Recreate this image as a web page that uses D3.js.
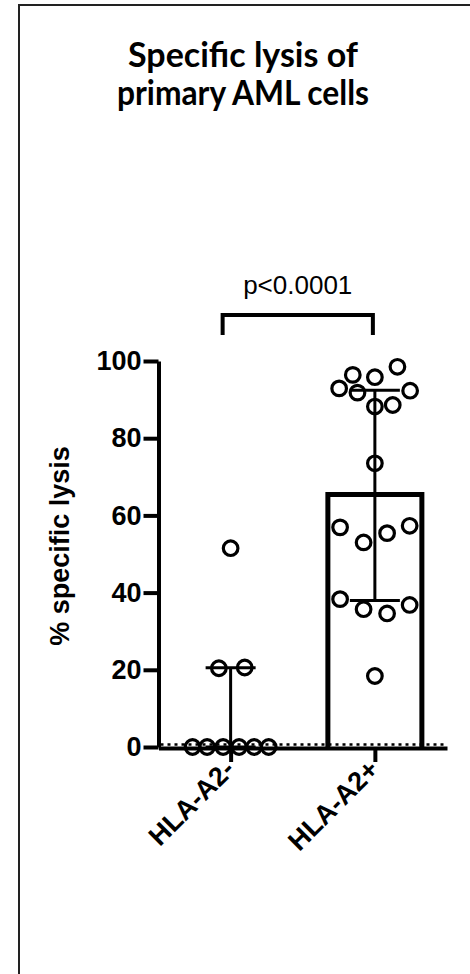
<!DOCTYPE html>
<html>
<head>
<meta charset="utf-8">
<script src="https://cdn.jsdelivr.net/npm/d3@7.9.0/dist/d3.min.js"></script>
<style>
  body { margin: 0; background: #fff; }
  svg { display: block; }
</style>
</head>
<body>
<div id="chart"></div>
<script>
// chart data
const groups = ["HLA-A2-", "HLA-A2+"];
const lysisA2neg = [0, 0, 0, 0, 0, 0, 20.4, 20.6, 51.5];
const jitterA2neg = [-0.81, -0.5, -0.16, 0.18, 0.5, 0.81, -0.25, 0.3, 0];
const lysisA2pos = [98.5, 96.4, 95.8, 92.9, 92.3, 91.8, 88.6, 88.2, 73.5,
                    57.3, 56.9, 55.4, 53.0, 38.3, 36.8, 35.7, 34.6, 18.4];
const jitterA2pos = [0.48, -0.47, 0, -0.76, 0.75, -0.37, 0.38, 0, 0,
                     0.74, -0.74, 0.26, -0.24, -0.74, 0.74, -0.24, 0.26, 0];
const yTicks = [0, 20, 40, 60, 80, 100];
const titleLines = ["Specific lysis of", "primary AML cells"];
const yTitle = "% specific lysis";
const pLabel = "p<0.0001";

const W = 470, H = 974;
const arial = "'Liberation Sans', Arial, sans-serif";

// GraphPad style quartiles (n+1)p
function quart(vals, p) {
  const s = vals.slice().sort((a, b) => a - b);
  const n = s.length;
  const pos = p * (n + 1);
  const lo = Math.floor(pos), frac = pos - lo;
  if (lo < 1) return s[0];
  if (lo >= n) return s[n - 1];
  return s[lo - 1] + frac * (s[lo] - s[lo - 1]);
}

const series = [
  {name: groups[0], vals: lysisA2neg, jit: jitterA2neg},
  {name: groups[1], vals: lysisA2pos, jit: jitterA2pos}
].map(g => ({...g, q1: quart(g.vals, 0.25), med: quart(g.vals, 0.5), q3: quart(g.vals, 0.75)}));

const svg = d3.select('#chart').append('svg')
  .attr('width', W).attr('height', H);

// frame
svg.append('path')
  .attr('d', `M19,${H} V5 H${W}`)
  .attr('fill', 'none').attr('stroke', '#222').attr('stroke-width', 2);

// title (Calibri-like width, squeezed a little)
const titleWidths = [230, 252];
svg.append('g').selectAll('text')
  .data(titleLines).join('text')
  .attr('x', 243)
  .attr('y', (d, i) => 67 + i * 38)
  .attr('text-anchor', 'middle')
  .attr('font-family', "Lato, 'Open Sans', sans-serif")
  .attr('font-weight', 'bold')
  .attr('font-size', 34)
  .attr('textLength', (d, i) => titleWidths[i])
  .attr('lengthAdjust', 'spacingAndGlyphs')
  .text(d => d);

// scales
const x = d3.scalePoint().domain(groups).range([158.5, 447]).padding(0.5);
const y = d3.scaleLinear().domain([0, 100]).range([747, 361]);
const jitter = d3.scaleLinear().domain([-1, 1]).range([-47, 47]);
const halfBar = 47, halfCap = 25;

// bars (median), open at the bottom
series.filter(g => g.med > 0).forEach(g => {
  const cx = x(g.name);
  svg.append('path')
    .attr('d', `M${cx - halfBar},${y(0)} V${y(g.med)} H${cx + halfBar} V${y(0)}`)
    .attr('fill', 'none').attr('stroke', '#000').attr('stroke-width', 5)
    .attr('stroke-linejoin', 'miter');
});

// interquartile error bars
series.forEach(g => {
  const cx = x(g.name);
  const eb = svg.append('g').attr('stroke', '#000').attr('stroke-width', 3);
  eb.append('line').attr('x1', cx).attr('x2', cx).attr('y1', y(g.q1)).attr('y2', y(g.q3));
  [g.q1, g.q3].forEach(v => {
    eb.append('line').attr('x1', cx - halfCap).attr('x2', cx + halfCap)
      .attr('y1', y(v)).attr('y2', y(v));
  });
});

// y axis
const yAxis = svg.append('g')
  .attr('transform', `translate(${x.range()[0]},0)`)
  .call(d3.axisLeft(y).tickValues(yTicks).tickSize(15).tickSizeOuter(0).tickPadding(2));
yAxis.select('.domain').attr('stroke-width', 4);
yAxis.selectAll('.tick line').attr('stroke-width', 4);
yAxis.selectAll('.tick text')
  .attr('font-family', arial).attr('font-weight', 'bold').attr('font-size', 27)
  .attr('fill', '#000');

// x axis
const xAxis = svg.append('g')
  .attr('transform', `translate(0,${y(0) + 1})`)
  .call(d3.axisBottom(x).tickSize(14).tickSizeOuter(0));
xAxis.select('.domain').attr('stroke-width', 4);
xAxis.selectAll('.tick line').attr('stroke-width', 4);
xAxis.selectAll('.tick text')
  .attr('font-family', arial).attr('font-weight', 'bold').attr('font-size', 27)
  .attr('fill', '#000')
  .attr('text-anchor', 'end')
  .attr('x', 0).attr('y', 0).attr('dy', 0)
  .attr('transform', 'translate(5,23) rotate(-45)');

// dotted zero line
svg.append('line')
  .attr('x1', x.range()[0] + 2).attr('x2', x.range()[1])
  .attr('y1', y(0) - 2.5).attr('y2', y(0) - 2.5)
  .attr('stroke', '#000').attr('stroke-width', 2.5)
  .attr('stroke-dasharray', '3,4');

// points
series.forEach(g => {
  svg.append('g').selectAll('circle')
    .data(g.vals.map((v, i) => ({v, j: g.jit[i]})))
    .join('circle')
    .attr('cx', d => x(g.name) + jitter(d.j))
    .attr('cy', d => y(d.v))
    .attr('r', 7.3)
    .attr('fill', 'none').attr('stroke', '#000').attr('stroke-width', 3.2);
});

// y title
svg.append('text')
  .attr('transform', 'translate(69,546) rotate(-90)')
  .attr('text-anchor', 'middle')
  .attr('font-family', arial).attr('font-weight', 'bold').attr('font-size', 27)
  .text(yTitle);

// significance bracket
const bx1 = x(groups[0]) - 8, bx2 = x(groups[1]) - 2, by = 315;
svg.append('path')
  .attr('d', `M${bx1},335 V${by} H${bx2} V335`)
  .attr('fill', 'none').attr('stroke', '#000').attr('stroke-width', 4);
svg.append('text')
  .attr('x', (bx1 + bx2) / 2).attr('y', 294)
  .attr('text-anchor', 'middle')
  .attr('font-family', arial).attr('font-size', 26)
  .text(pLabel);
</script>
</body>
</html>
